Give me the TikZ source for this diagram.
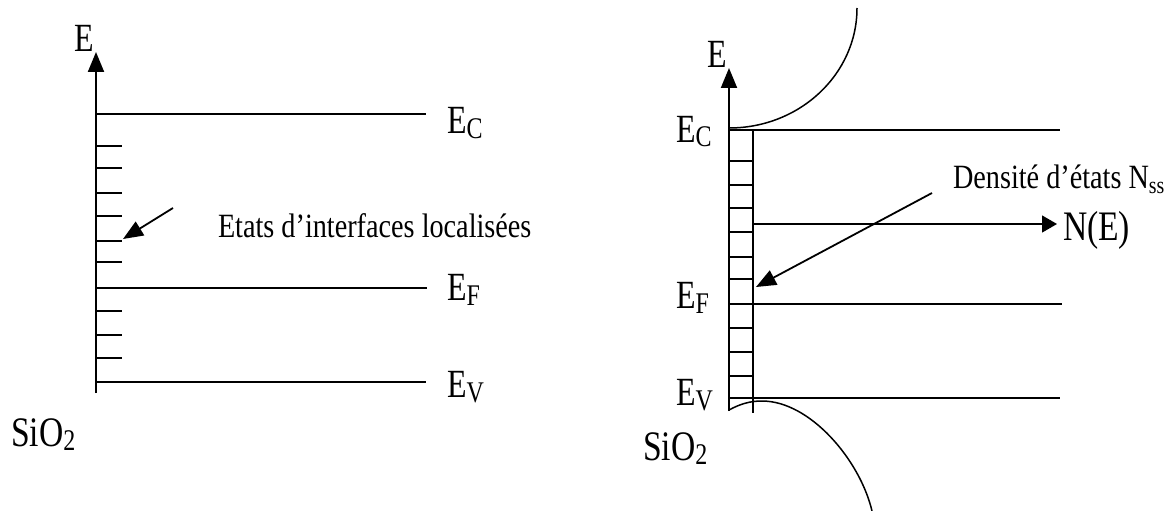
\documentclass[tikz,border=0pt]{standalone}
\usepackage{fontspec}
\usepackage{graphicx}
\setmainfont{Liberation Serif}
\usetikzlibrary{arrows.meta}
\newcommand{\levlbl}[1]{\scalebox{0.8}[1]{\fontsize{40}{40}\selectfont E\raisebox{-5pt}{\fontsize{30}{30}\selectfont #1}}}
\newcommand{\biglbl}[1]{\scalebox{0.8}[1]{\fontsize{40}{40}\selectfont #1}}
\newcommand{\sioxide}{\scalebox{0.8}[1]{\fontsize{42}{42}\selectfont SiO\raisebox{-4pt}{\fontsize{30}{30}\selectfont 2}}}
\newcommand{\midtxt}[1]{\scalebox{0.83}[1]{\fontsize{34}{34}\selectfont #1}}
\begin{document}
\begin{tikzpicture}[x=1pt,y=-1pt,
  lbl/.style={inner sep=0pt,outer sep=0pt},
  axisline/.style={line width=2pt,-{Triangle[length=20pt,width=16pt]}},
  level/.style={line width=1.3pt},
  tick/.style={line width=1.3pt},
  pointer/.style={line width=1.8pt,-{Triangle[length=20pt,width=16pt]}}]
\useasboundingbox (0,0) rectangle (1173,511);
% ---------- left diagram ----------
\coordinate (La0) at (96,393);
\coordinate (La1) at (96,52);
\draw[axisline] (La0) -- (La1);
\coordinate (LC0) at (96,114); \coordinate (LC1) at (426,114);
\coordinate (LF0) at (96,288); \coordinate (LF1) at (427,288);
\coordinate (LV0) at (96,382); \coordinate (LV1) at (426,382);
\draw[level] (LC0) -- (LC1);
\draw[level] (LF0) -- (LF1);
\draw[level] (LV0) -- (LV1);
\foreach \yy in {146,168,193,216,241,262,311,335,358}
  \draw[tick] (96,\yy) -- (122,\yy);
\node[lbl,anchor=base east] (LE) at (94,52) {\biglbl{E}};
\node[lbl,anchor=base west] (LEc) at (447,133) {\levlbl{C}};
\node[lbl,anchor=base west] (LEf) at (447,300) {\levlbl{F}};
\node[lbl,anchor=base west] (LEv) at (447,397) {\levlbl{V}};
\node[lbl,anchor=base west] (LSi) at (11,446) {\sioxide};
\node[lbl,anchor=base west] (Letats) at (218,237) {\midtxt{Etats d’interfaces localisées}};
\coordinate (Lp0) at (173,208);
\coordinate (Lp1) at (123,239);
\draw[pointer] (Lp0) -- (Lp1);
% ---------- right diagram ----------
\coordinate (Ra0) at (729,411);
\coordinate (Ra1) at (729,68);
\draw[axisline] (Ra0) -- (Ra1);
\coordinate (Rl0) at (753,130); \coordinate (Rl1) at (753,413);
\draw[line width=1.2pt] (Rl0) -- (Rl1);
\coordinate (RC0) at (729,130); \coordinate (RC1) at (1060,130);
\coordinate (RF0) at (729,304); \coordinate (RF1) at (1062,304);
\coordinate (RV0) at (729,398); \coordinate (RV1) at (1060,398);
\draw[level] (RC0) -- (RC1);
\draw[level] (RF0) -- (RF1);
\draw[level] (RV0) -- (RV1);
\foreach \yy in {161,185,208,232,257,279,328,352,376}
  \draw[tick] (729,\yy) -- (753,\yy);
\coordinate (Rn0) at (753,224);
\coordinate (Rn1) at (1057,224);
\draw[level,-{Triangle[length=15pt,width=17pt]}] (Rn0) -- (Rn1);
% band curves
\draw[line width=1.5pt] (729,128) arc[start angle=90,end angle=0,x radius=128,y radius=120];
\draw[line width=1.5pt] (729,410) .. controls (740,404) and (750,401) .. (762,401)
  .. controls (810,401) and (860,460) .. (872,511);
\node[lbl,anchor=base east] (RE) at (727,67) {\biglbl{E}};
\node[lbl,anchor=base west] (REc) at (676,142) {\levlbl{C}};
\node[lbl,anchor=base west] (REf) at (676,308) {\levlbl{F}};
\node[lbl,anchor=base west] (REv) at (676,405) {\levlbl{V}};
\node[lbl,anchor=base west] (RSi) at (643,460) {\sioxide};
\node[lbl,anchor=base west] (RNE) at (1063,240) {\biglbl{\fontsize{42}{42}\selectfont N(E)}};
\node[lbl,anchor=base west] (Rdens) at (953,188) {\midtxt{Densité d’états N\raisebox{-5pt}{\fontsize{24}{24}\selectfont ss}}};
\coordinate (Rp0) at (932,193);
\coordinate (Rp1) at (756,287);
\draw[pointer] (Rp0) -- (Rp1);
\end{tikzpicture}
\end{document}
